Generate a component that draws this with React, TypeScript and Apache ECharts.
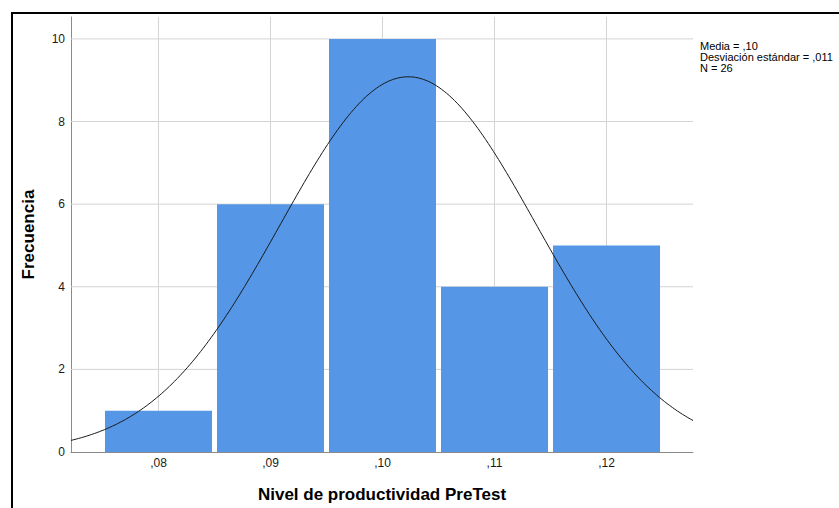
import React, { useEffect, useRef } from "react";
import * as echarts from "echarts";

// Histogram data (bin centres and frequencies)
const binCenters = [0.08, 0.09, 0.1, 0.11, 0.12];
const frequencies = [1, 6, 10, 4, 5];
const xTickValues = [0.08, 0.09, 0.1, 0.11, 0.12];
const yTickValues = [0, 2, 4, 6, 8, 10];
const statsLines = ["Media = ,10", "Desviación estándar = ,011", "N = 26"];
const MEAN = 0.1023;
const SD = 0.01142;
const N = 26;
const BIN_WIDTH = 0.01;
const X_MIN = 0.07219;
const X_MAX = 0.12772;
const Y_MAX = 10.53;

const fmtX = (v: number) => "," + Math.round(v * 100).toString().padStart(2, "0");

export default function App() {
  const ref = useRef<HTMLDivElement>(null);
  useEffect(() => {
    if (!ref.current) return;
    const chart = echarts.init(ref.current, undefined, { renderer: "svg" });

    const barData = binCenters.map((c, i) => [c, frequencies[i]]);
    const curve: number[][] = [];
    const steps = 240;
    for (let i = 0; i <= steps; i++) {
      const x = X_MIN + ((X_MAX - X_MIN) * i) / steps;
      const z = (x - MEAN) / SD;
      const y = (N * BIN_WIDTH) / (SD * Math.sqrt(2 * Math.PI)) * Math.exp(-0.5 * z * z);
      curve.push([x, y]);
    }

    const font = "'Liberation Sans', Arial, sans-serif";
    const gridColor = "#d3d3d3";

    chart.setOption({
      animation: false,
      backgroundColor: "#ffffff",
      grid: { left: 71, right: 146, top: 17, bottom: 54, containLabel: false },
      xAxis: {
        type: "value",
        min: X_MIN,
        max: X_MAX,
        name: "Nivel de productividad PreTest",
        nameLocation: "middle",
        nameGap: 34,
        nameTextStyle: { fontFamily: font, fontSize: 17, fontWeight: "bold", color: "#000" },
        axisLine: { show: true, lineStyle: { color: "#8a8a8a", width: 1 } },
        axisTick: { show: false },
        splitLine: { show: false },
        axisLabel: {
          customValues: xTickValues,
          formatter: (v: number) => fmtX(v),
          fontFamily: font,
          fontSize: 12,
          color: "#1a1a1a",
          margin: 5,
        },
      },
      yAxis: {
        type: "value",
        min: 0,
        max: Y_MAX,
        name: "Frecuencia",
        nameLocation: "middle",
        nameRotate: 90,
        nameGap: 34,
        nameTextStyle: { fontFamily: font, fontSize: 17, fontWeight: "bold", color: "#000" },
        axisLine: { show: true, lineStyle: { color: "#8a8a8a", width: 1 } },
        axisTick: { show: false },
        splitLine: { show: false },
        axisLabel: {
          customValues: yTickValues,
          formatter: (v: number) => String(v),
          fontFamily: font,
          fontSize: 12,
          color: "#1a1a1a",
          margin: 6,
        },
      },
      series: [
        {
          type: "custom",
          z: 1,
          silent: true,
          data: xTickValues.map((v) => [v, 0]),
          renderItem: (params: any, api: any) => {
            const p0 = api.coord([api.value(0), 0]);
            const p1 = api.coord([api.value(0), Y_MAX]);
            return {
              type: "line",
              shape: { x1: p0[0], y1: p0[1], x2: p1[0], y2: p1[1] },
              style: { stroke: gridColor, lineWidth: 1 },
            };
          },
        },
        {
          type: "custom",
          z: 1,
          silent: true,
          data: yTickValues.filter((v) => v > 0).map((v) => [X_MIN, v]),
          renderItem: (params: any, api: any) => {
            const p0 = api.coord([X_MIN, api.value(1)]);
            const p1 = api.coord([X_MAX, api.value(1)]);
            return {
              type: "line",
              shape: { x1: p0[0], y1: p0[1], x2: p1[0], y2: p1[1] },
              style: { stroke: gridColor, lineWidth: 1 },
            };
          },
        },
        {
          type: "bar",
          z: 2,
          data: barData,
          barWidth: 107,
          itemStyle: { color: "#5596e6" },
        },
        {
          type: "line",
          z: 3,
          data: curve,
          showSymbol: false,
          symbol: "none",
          lineStyle: { color: "#1a1a1a", width: 1 },
        },
      ],
      graphic: [
        {
          type: "rect",
          shape: { x: 12, y: 13, width: 900, height: 600 },
          style: { fill: "none", stroke: "#000", lineWidth: 2 },
          silent: true,
        },
        ...statsLines.map((t, i) => ({
          type: "text",
          left: 700,
          top: 40 + i * 11,
          style: {
            text: t,
            fontFamily: font,
            fontSize: 11,
            fill: "#000",
          },
        })),
      ],
    });
    return () => chart.dispose();
  }, []);
  return (
    <div
      ref={ref}
      style={{ position: "fixed", left: 0, top: 0, width: 839, height: 508, background: "#fff" }}
    />
  );
}
